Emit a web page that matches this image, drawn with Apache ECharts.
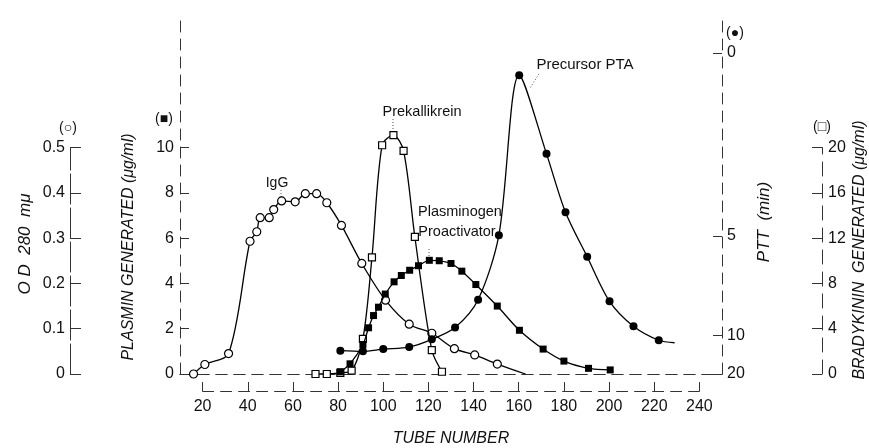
<!DOCTYPE html>
<html>
<head>
<meta charset="utf-8">
<script src="https://cdn.jsdelivr.net/npm/echarts@6/dist/echarts.min.js"></script>
<style>html,body{margin:0;padding:0;background:#fff;}#c{width:869px;height:448px;}</style>
</head>
<body>
<div id="c"></div>
<script>
// ---- data ----
const tubeTicks = [20, 40, 60, 80, 100, 120, 140, 160, 180, 200, 220, 240];

// IgG, optical density at 280 mμ (open circles)
const igTube = [16, 21, 31.5, 41, 44, 45.5, 49.5, 51.5, 55, 61, 65.5, 70.5, 75, 81.5, 90.5, 101, 111.5, 121.5, 131.5, 140.5, 150.5, 163];
const igOD   = [0, 0.021, 0.045, 0.293, 0.314, 0.345, 0.345, 0.363, 0.382, 0.38, 0.398, 0.398, 0.378, 0.328, 0.244, 0.163, 0.11, 0.09, 0.056, 0.042, 0.022, 0];

// Prekallikrein, bradykinin generated μg/ml (open squares)
const pkTube = [70, 75, 81, 86, 91, 95, 99.5, 104.5, 109, 114, 121.5, 126];
const pkBrady = [0, 0, 0.1, 0.3, 3.1, 10.3, 20.2, 21.1, 19.7, 12.1, 2.1, 0.2];

// Plasminogen proactivator, plasmin generated μg/ml (filled squares)
const ppTube = [81, 85.3, 91, 93.5, 95.7, 97.9, 100.9, 104.8, 108, 111.7, 115.6, 120.4, 124.8, 130, 134.8, 141, 150.5, 160.3, 170.8, 180, 190.9, 200.5];
const ppPlasmin = [0.1, 0.45, 1.3, 2.04, 2.58, 2.95, 3.53, 4.07, 4.35, 4.58, 4.78, 5.02, 5.0, 4.88, 4.54, 3.95, 3.0, 1.93, 1.1, 0.57, 0.25, 0.18];

// Precursor PTA, level on the PTT axis (filled circles)
const ptaTube = [81, 91, 100, 111.5, 121.5, 131.8, 142, 151.2, 160.2, 172.3, 180.7, 190.3, 200.2, 210.8, 222, 229];
const ptaLevel = [1.03, 1.0, 1.1, 1.19, 1.53, 2.05, 3.28, 6.13, 13.19, 9.72, 7.14, 5.18, 3.21, 2.11, 1.49, 1.38];

// axis tick labels
const plasminTicks = [0, 2, 4, 6, 8, 10];
const pttLabels = ['0', '5', '10', '20'];
const pttTickPos = [14.18, 6.1, 1.7, 0];

// ---- chart ----
const FONT = '"Liberation Sans", Arial, sans-serif';
const INK = '#111';
const DASH = [11, 7];
const dashLine = { show: true, lineStyle: { color: '#333', width: 1, type: DASH } };

function pairs(xs, ys, lastNoSymbol) {
  return xs.map((x, i) => {
    const item = { value: [x, ys[i]] };
    if (lastNoSymbol && i === xs.length - 1) item.symbol = 'none';
    return item;
  });
}

const chart = echarts.init(document.getElementById('c'), null, { renderer: 'canvas' });

const labelStyle = { color: INK, fontFamily: FONT, fontSize: 16 };

const option = {
  animation: false,
  backgroundColor: '#fff',
  grid: [
    { left: 180, right: 147, top: 15, bottom: 74 },
    { left: 180, right: 147, top: 147.5, bottom: 74 },
    { left: 180, right: 147, top: 147.5, bottom: 74 },
    { left: 202.6, right: 169.6, top: 300, bottom: 53 }
  ],
  xAxis: [
    { gridIndex: 0, type: 'value', min: 10, max: 250, position: 'bottom', axisLine: dashLine, axisTick: { show: false }, axisLabel: { show: false }, splitLine: { show: false } },
    { gridIndex: 0, type: 'value', min: 10, max: 250, position: 'top', axisLine: dashLine, axisTick: { show: false }, axisLabel: { show: false }, splitLine: { show: false } },
    { gridIndex: 1, type: 'value', min: 10, max: 250, show: false },
    { gridIndex: 2, type: 'value', min: 10, max: 250, show: false },
    { gridIndex: 3, type: 'value', min: 20, max: 240, interval: 20, position: 'bottom',
      axisLine: dashLine,
      axisTick: { show: true, inside: true, length: 9, lineStyle: { color: '#333' }, customValues: tubeTicks },
      axisLabel: Object.assign({ margin: 8, customValues: tubeTicks }, labelStyle),
      splitLine: { show: false },
      name: 'TUBE NUMBER', nameLocation: 'middle', nameGap: 40,
      nameTextStyle: { color: INK, fontFamily: FONT, fontSize: 16, fontStyle: 'italic' } }
  ],
  yAxis: [
    { gridIndex: 0, type: 'value', min: 0, max: 15.85, position: 'left',
      axisLine: dashLine,
      axisTick: { show: true, inside: true, length: 9, lineStyle: { color: '#333' }, customValues: plasminTicks },
      axisLabel: Object.assign({ margin: 6, customValues: plasminTicks }, labelStyle),
      splitLine: { show: false } },
    { gridIndex: 0, type: 'value', min: 0, max: 15.85, position: 'right',
      axisLine: dashLine,
      axisTick: { show: true, inside: true, length: 9, lineStyle: { color: '#333' }, customValues: pttTickPos },
      axisLabel: Object.assign({ margin: 5, customValues: pttTickPos,
        formatter: v => { let b = 0; pttTickPos.forEach((p, i) => { if (Math.abs(p - v) < Math.abs(pttTickPos[b] - v)) b = i; }); return pttLabels[b]; } }, labelStyle),
      splitLine: { show: false } },
    { gridIndex: 1, type: 'value', min: 0, max: 0.5, interval: 0.1, position: 'left', offset: 110,
      axisLine: { show: true, lineStyle: { color: '#333', width: 1, type: [30, 4] } },
      axisTick: { show: true, inside: true, length: 11, lineStyle: { color: '#333' } },
      axisLabel: Object.assign({ margin: 5, formatter: v => v === 0 ? '0' : v.toFixed(1) }, labelStyle),
      splitLine: { show: false } },
    { gridIndex: 2, type: 'value', min: 0, max: 20, interval: 4, position: 'right', offset: 100,
      axisLine: { show: true, lineStyle: { color: '#333', width: 1, type: [14, 8] } },
      axisTick: { show: true, inside: true, length: 10, lineStyle: { color: '#333' } },
      axisLabel: Object.assign({ margin: 6 }, labelStyle),
      splitLine: { show: false } },
    { gridIndex: 3, type: 'value', show: false }
  ],
  series: [
    { name: 'IgG', type: 'line', xAxisIndex: 2, yAxisIndex: 2, data: pairs(igTube, igOD, true),
      smooth: 0.3, clip: false, symbol: 'circle', symbolSize: 8,
      lineStyle: { color: '#000', width: 1.3 }, itemStyle: { color: '#fff', borderColor: '#000', borderWidth: 1.2 }, z: 3 },
    { name: 'Prekallikrein', type: 'line', xAxisIndex: 3, yAxisIndex: 3, data: pairs(pkTube, pkBrady, false),
      smooth: 0.3, clip: false, symbol: 'rect', symbolSize: 7,
      lineStyle: { color: '#000', width: 1.3 }, itemStyle: { color: '#fff', borderColor: '#000', borderWidth: 1.2 }, z: 4 },
    { name: 'Plasminogen Proactivator', type: 'line', xAxisIndex: 0, yAxisIndex: 0, data: pairs(ppTube, ppPlasmin, false),
      smooth: 0.3, clip: false, symbol: 'rect', symbolSize: 7,
      lineStyle: { color: '#000', width: 1.3 }, itemStyle: { color: '#000' }, z: 5 },
    { name: 'Precursor PTA', type: 'line', xAxisIndex: 0, yAxisIndex: 1, data: pairs(ptaTube, ptaLevel, true),
      smooth: 0.3, clip: false, symbol: 'circle', symbolSize: 8,
      lineStyle: { color: '#000', width: 1.3 }, itemStyle: { color: '#000' }, z: 5 }
  ],
  graphic: [
    // axis titles
    { type: 'text', x: 25, y: 244, rotation: Math.PI / 2, style: { text: 'O D  280  mμ', fill: INK, font: 'italic 17px ' + FONT, align: 'center', verticalAlign: 'middle' } },
    { type: 'text', x: 129, y: 247, rotation: Math.PI / 2, style: { text: 'PLASMIN GENERATED (μg/ml)', fill: INK, font: 'italic 16px ' + FONT, align: 'center', verticalAlign: 'middle' } },
    { type: 'text', x: 764, y: 222, rotation: Math.PI / 2, style: { text: 'PTT  (min)', fill: INK, font: 'italic 17px ' + FONT, align: 'center', verticalAlign: 'middle' } },
    { type: 'text', x: 860, y: 250, rotation: Math.PI / 2, style: { text: 'BRADYKININ  GENERATED (μg/ml)', fill: INK, font: 'italic 16px ' + FONT, align: 'center', verticalAlign: 'middle' } },
    // symbol keys
    { type: 'text', x: 68, y: 128, style: { text: '(○)', fill: INK, font: '14px ' + FONT, align: 'center', verticalAlign: 'middle' } },
    { type: 'text', x: 164, y: 119, style: { text: '(■)', fill: INK, font: '14px ' + FONT, align: 'center', verticalAlign: 'middle' } },
    { type: 'text', x: 735, y: 33, style: { text: '(●)', fill: INK, font: '14px ' + FONT, align: 'center', verticalAlign: 'middle' } },
    { type: 'text', x: 822, y: 127, style: { text: '(□)', fill: INK, font: '14px ' + FONT, align: 'center', verticalAlign: 'middle' } },
    // curve annotations
    { type: 'text', x: 277, y: 183, style: { text: 'IgG', fill: INK, font: '14px ' + FONT, align: 'center', verticalAlign: 'middle' } },
    { type: 'text', x: 422, y: 112, style: { text: 'Prekallikrein', fill: INK, font: '14.5px ' + FONT, align: 'center', verticalAlign: 'middle' } },
    { type: 'text', x: 585, y: 65, style: { text: 'Precursor PTA', fill: INK, font: '15px ' + FONT, align: 'center', verticalAlign: 'middle' } },
    { type: 'text', x: 460, y: 212, style: { text: 'Plasminogen', fill: INK, font: '14.5px ' + FONT, align: 'center', verticalAlign: 'middle' } },
    { type: 'text', x: 457, y: 232, style: { text: 'Proactivator', fill: INK, font: '14.5px ' + FONT, align: 'center', verticalAlign: 'middle' } },
    // leader lines
    { type: 'line', shape: { x1: 281, y1: 190, x2: 281, y2: 197 }, style: { stroke: '#555', lineWidth: 1, lineDash: [1, 2] } },
    { type: 'line', shape: { x1: 393, y1: 119, x2: 393, y2: 132 }, style: { stroke: '#555', lineWidth: 1, lineDash: [1, 2] } },
    { type: 'line', shape: { x1: 539, y1: 74, x2: 530, y2: 88 }, style: { stroke: '#555', lineWidth: 1, lineDash: [1, 2] } },
    { type: 'line', shape: { x1: 429, y1: 249, x2: 429, y2: 257 }, style: { stroke: '#555', lineWidth: 1, lineDash: [1, 2] } }
  ]
};

chart.setOption(option);
</script>
</body>
</html>
